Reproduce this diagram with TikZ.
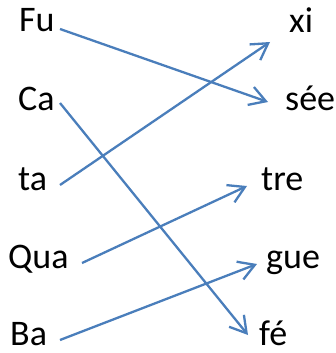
\documentclass[tikz,border=0pt]{standalone}
\usepackage{fontspec}
\setmainfont{Carlito}
\usetikzlibrary{arrows.meta}
\definecolor{linkblue}{RGB}{74,126,187}
\begin{document}
\begin{tikzpicture}[
  word/.style={anchor=base west, inner sep=0pt, font=\fontsize{36}{43}\selectfont, text=black},
  link/.style={draw=linkblue, line width=2.3pt, -{Straight Barb[length=16pt,width=19pt,line width=2.3pt]}}
]
\useasboundingbox (0pt,0pt) rectangle (336pt,-353pt);
% left column
\node[word] (Fu)  at (19pt,-32pt)  {Fu};
\node[word] (Ca)  at (18pt,-110pt) {Ca};
\node[word] (ta)  at (18pt,-190pt) {ta};
\node[word] (Qua) at (8pt,-268pt)  {Qua};
\node[word] (Ba)  at (10pt,-345pt) {Ba};
% right column
\node[word] (xi)  at (289pt,-33pt)  {xi};
\node[word] (see) at (285pt,-110pt) {sée};
\node[word] (tre) at (261pt,-190pt) {tre};
\node[word] (gue) at (266pt,-268pt) {gue};
\node[word] (fe)  at (259pt,-345pt) {fé};
% connectors
\draw[link] ([shift={(41pt,3pt)}]Fu.base west) -- ([shift={(-17pt,8pt)}]see.base west);
\draw[link] ([shift={(42pt,7pt)}]Ca.base west) -- ([shift={(-11pt,10pt)}]fe.base west);
\draw[link] ([shift={(42pt,5pt)}]ta.base west) -- ([shift={(-19pt,-9pt)}]xi.base west);
\draw[link] ([shift={(74pt,5pt)}]Qua.base west) -- ([shift={(-14pt,4pt)}]tre.base west);
\draw[link] ([shift={(50pt,5pt)}]Ba.base west) -- ([shift={(-9pt,4pt)}]gue.base west);
\end{tikzpicture}
\end{document}
